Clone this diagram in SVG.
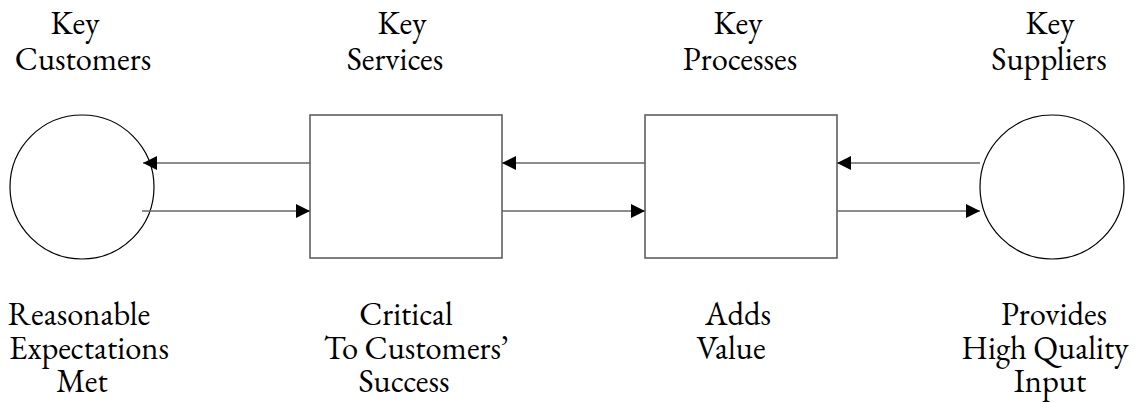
<svg xmlns="http://www.w3.org/2000/svg" width="1135" height="402" viewBox="0 0 1135 402">
  <style>
    text { font-family: "EB Garamond", "Liberation Serif", serif; font-size: 32.5px; fill: #000; text-anchor: middle; }
    .shape { fill: #fff; stroke: #000; stroke-width: 1.2; }
    .box { fill: #fff; stroke: #555; stroke-width: 1.5; }
    .flow { stroke: #666; stroke-width: 1.6; fill: none; marker-end: url(#head); }
  </style>
  <defs>
    <marker id="head" markerWidth="14" markerHeight="14" refX="14" refY="7" orient="auto" markerUnits="userSpaceOnUse">
      <path d="M0,0 L14,7 L0,14 Z" fill="#000"/>
    </marker>
  </defs>
  <rect width="1135" height="402" fill="#fff"/>

  <g id="customers">
    <circle class="shape" cx="82" cy="187" r="72"/>
    <text x="75" y="34">Key</text>
    <text x="83" y="70">Customers</text>
    <text x="79" y="325">Reasonable</text>
    <text x="89" y="358.5">Expectations</text>
    <text x="82" y="392">Met</text>
  </g>

  <g id="services">
    <rect class="box" x="310" y="115" width="192" height="143"/>
    <text x="402" y="34">Key</text>
    <text x="395" y="70">Services</text>
    <text x="406" y="325">Critical</text>
    <text x="416" y="358.5">To Customers’</text>
    <text x="404" y="392">Success</text>
  </g>

  <g id="processes">
    <rect class="box" x="645" y="115" width="192" height="143"/>
    <text x="738" y="34">Key</text>
    <text x="740" y="70">Processes</text>
    <text x="738" y="325">Adds</text>
    <text x="731" y="358.5">Value</text>
  </g>

  <g id="suppliers">
    <circle class="shape" cx="1052" cy="187" r="72"/>
    <text x="1050" y="34">Key</text>
    <text x="1049" y="70">Suppliers</text>
    <text x="1054" y="325">Provides</text>
    <text x="1045" y="358.5">High Quality</text>
    <text x="1050" y="392">Input</text>
  </g>

  <g id="connectors">
    <line class="flow" x1="310" y1="163" x2="143" y2="163"/>
    <line class="flow" x1="142" y1="211" x2="310" y2="211"/>
    <line class="flow" x1="645" y1="163" x2="502" y2="163"/>
    <line class="flow" x1="502" y1="211" x2="645" y2="211"/>
    <line class="flow" x1="980" y1="163" x2="837" y2="163"/>
    <line class="flow" x1="837" y1="211" x2="980" y2="211"/>
  </g>
</svg>
